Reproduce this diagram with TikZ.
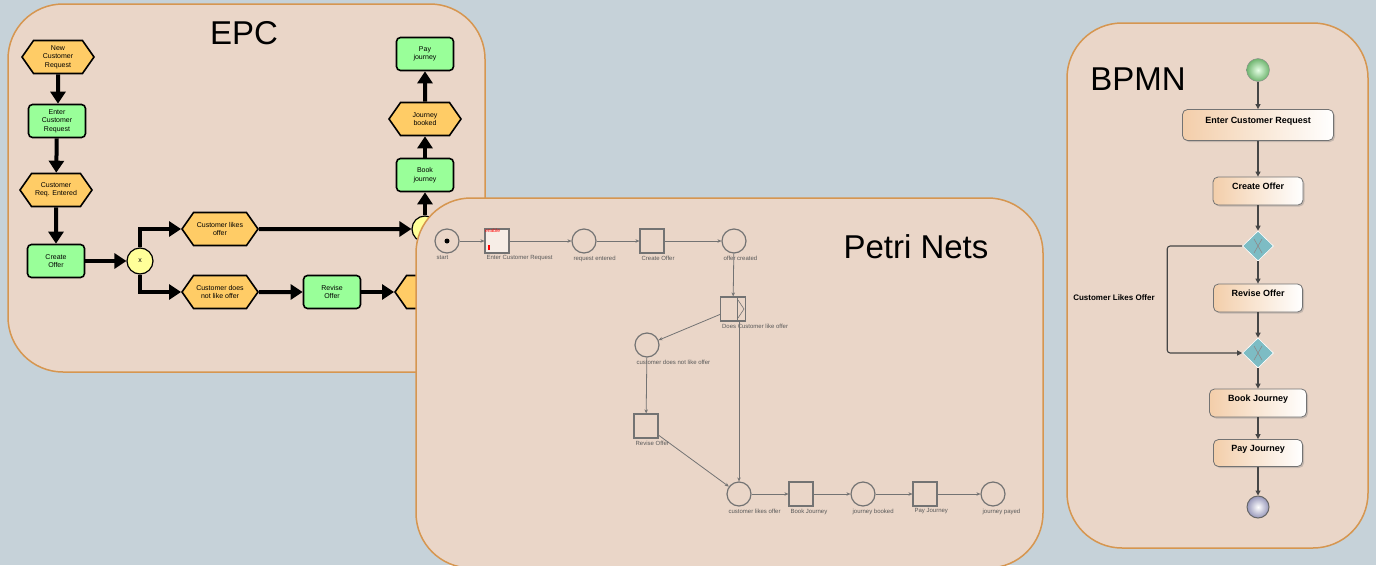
\documentclass[tikz,border=0pt]{standalone}
\usepackage{fontspec}
\setmainfont{Liberation Sans}
\usetikzlibrary{arrows.meta,shapes.symbols,shapes.geometric,shadows}

\definecolor{slide}{RGB}{198,210,217}
\definecolor{panel}{RGB}{234,214,200}
\definecolor{panelline}{RGB}{214,150,80}
\definecolor{epcfunc}{RGB}{153,255,153}
\definecolor{epcevent}{RGB}{255,204,102}
\definecolor{epcconn}{RGB}{255,255,153}
\definecolor{pnline}{RGB}{115,115,115}
\definecolor{taskleft}{RGB}{243,206,170}
\definecolor{gateway}{RGB}{125,188,196}
\definecolor{flowline}{RGB}{70,70,70}

\tikzset{
  panelbox/.style={draw=panelline, line width=1.5pt, fill=panel, rounded corners=55pt},
  title/.style={font=\fontsize{33}{38}\selectfont},
  % EPC
  func/.style={draw, line width=1.6pt, fill=epcfunc, rounded corners=4pt,
    minimum width=57pt, minimum height=33pt, align=center, inner sep=1pt,
    font=\fontsize{7}{8.5}\selectfont},
  event/.style={signal, signal to=west and east, signal pointer angle=110,
    draw, line width=1.6pt, fill=epcevent, minimum width=72pt, minimum height=33pt,
    align=center, inner sep=1pt, font=\fontsize{7}{8.5}\selectfont},
  conn/.style={circle, draw, line width=1.2pt, fill=epcconn, minimum size=26pt,
    inner sep=0pt, font=\fontsize{7}{8}\selectfont},
  flow/.style={line width=4pt, -{Triangle[length=12pt,width=15pt]}},
  % Petri net
  place/.style={circle, draw=pnline, line width=1.2pt, minimum size=24pt, inner sep=0pt},
  trans/.style={rectangle, draw=pnline, line width=1.2pt, minimum size=24pt, inner sep=0pt},
  arc/.style={draw=pnline, line width=0.8pt, -{Stealth[length=4pt,width=3.5pt]}},
  pnlabel/.style={anchor=north west, inner sep=2pt, text=black!65,
    font=\fontsize{6}{7}\selectfont},
  % BPMN
  task/.style={draw=black!55, rounded corners=5pt, left color=taskleft, right color=white,
    line width=0.8pt, minimum height=28pt, text height=7pt, text depth=10pt,
    font=\fontsize{9}{10}\selectfont\bfseries,
    drop shadow={opacity=0.35, shadow xshift=1.5pt, shadow yshift=-1.5pt}},
  gate/.style={diamond, draw=white, line width=0.6pt, fill=gateway,
    minimum width=31pt, minimum height=30pt, inner sep=0pt},
  seq/.style={draw=flowline, line width=1.1pt, -{Triangle[length=5pt,width=5pt]}},
}

\begin{document}
\begin{tikzpicture}[x=1pt,y=-1pt]
  \useasboundingbox[fill=slide] (0,0) rectangle (1376,565);

  % EPC panel
  \draw[panelbox] (8,4) rectangle (485,372);
  \node[title] (epcTitle) at (244,33) {EPC};

  \node[event] (epcNew) at (58,57) {New\\Customer\\Request};
  \node[func] (epcEnter) at (57,121) {Enter\\Customer\\Request};
  \node[event] (epcEntered) at (56,190) {Customer\\Req. Entered};
  \node[func] (epcCreate) at (56,261) {Create\\Offer};
  \node[conn] (epcXor) at (140,261) {x};
  \node[event, minimum width=76pt] (epcLikes) at (220,229) {Customer likes\\offer};
  \node[event, minimum width=76pt] (epcNoLike) at (220,292) {Customer does\\not like offer};
  \node[func] (epcRevise) at (332,292) {Revise\\Offer};
  \node[event] (epcRevised) at (431,292) {};
  \node[conn] (epcJoin) at (425,229) {};
  \node[func] (epcBook) at (425,175) {Book\\journey};
  \node[event] (epcBooked) at (425,119) {Journey\\booked};
  \node[func] (epcPay) at (425,54) {Pay\\journey};

  \draw[flow] (epcNew) -- (epcNew |- epcEnter.north);
  \draw[flow] (epcEnter) -- (epcEntered);
  \draw[flow] (epcEntered) -- (epcCreate);
  \draw[flow] (epcCreate) -- (epcXor);
  \draw[flow] (epcXor) |- (epcLikes);
  \draw[flow] (epcXor) |- (epcNoLike);
  \draw[flow] (epcLikes) -- (epcJoin);
  \draw[flow] (epcNoLike) -- (epcRevise);
  \draw[flow] (epcRevise) -- (epcRevised);
  \draw[flow] (epcJoin) -- (epcBook);
  \draw[flow] (epcBook) -- (epcBooked);
  \draw[flow] (epcBooked) -- (epcPay);

  % Petri net panel
  \draw[panelbox] (416,198) rectangle (1043,568);
  \node[title] (pnTitle) at (916,247) {Petri Nets};

  \node[place] (pnStart) at (447,241) {};
  \fill[black] (pnStart.center) circle (2.5);
  \node[trans, fill=white!55!panel] (pnEnter) at (497,241) {};
  \node[anchor=north west, inner sep=0.5pt, text=red, font=\fontsize{5}{5}\selectfont]
    (pnEnable) at (pnEnter.north west) {enable};
  \fill[red] (488,245) rectangle (490,250);
  \node[place] (pnReq) at (584,241) {};
  \node[trans] (pnCreate) at (652,241) {};
  \node[place] (pnOffer) at (734,241) {};
  \node[trans, minimum width=25pt] (pnDoes) at (733,309) {};
  % split part of the transition
  \draw[pnline, line width=0.8pt] (737,297) -- (737,321);
  \draw[pnline, line width=0.6pt] (738,300) -- (744,309) -- (738,318);
  \node[place] (pnNoLike) at (647,345) {};
  \node[trans] (pnRevise) at (646,426) {};
  \node[place] (pnLikes) at (739,494) {};
  \node[trans] (pnBook) at (801,494) {};
  \node[place] (pnBooked) at (863,494) {};
  \node[trans] (pnPay) at (925,494) {};
  \node[place] (pnPayed) at (993,494) {};

  \node[pnlabel] at (pnStart.south -| pnStart.west) {start};
  \node[pnlabel] at (pnEnter.south west) {Enter Customer Request};
  \node[pnlabel] at (pnReq.south -| pnReq.west) {request entered};
  \node[pnlabel] at (pnCreate.south west) {Create Offer};
  \node[pnlabel] at (pnOffer.south -| pnOffer.west) {offer created};
  \node[pnlabel] at (pnDoes.south west) {Does Customer like offer};
  \node[pnlabel] at (pnNoLike.south -| pnNoLike.west) {customer does not like offer};
  \node[pnlabel] at (pnRevise.south west) {Revise Offer};
  \node[pnlabel] at (pnLikes.south -| pnLikes.west) {customer likes offer};
  \node[pnlabel] at (pnBook.south west) {Book Journey};
  \node[pnlabel] at (pnBooked.south -| pnBooked.west) {journey booked};
  \node[pnlabel] at (pnPay.south west) {Pay Journey};
  \node[pnlabel] at (pnPayed.south -| pnPayed.west) {journey payed};

  \draw[arc] (pnStart) -- (pnEnter);
  \draw[arc] (pnEnter) -- (pnReq);
  \draw[arc] (pnReq) -- (pnCreate);
  \draw[arc] (pnCreate) -- (pnOffer);
  \draw[arc] (pnOffer) -- (pnDoes);
  \draw[arc] (pnDoes) -- (pnNoLike);
  \draw[arc] ([xshift=6pt]pnDoes.south) -- (pnLikes);
  \draw[arc] (pnNoLike) -- (pnRevise);
  \draw[arc] (pnRevise) -- (pnLikes);
  \draw[arc] (pnLikes) -- (pnBook);
  \draw[arc] (pnBook) -- (pnBooked);
  \draw[arc] (pnBooked) -- (pnPay);
  \draw[arc] (pnPay) -- (pnPayed);

  % BPMN panel
  \draw[panelbox] (1067,23) rectangle (1368,548);
  \node[title] (bpTitle) at (1138,79) {BPMN};

  \node[circle, draw=black!45, minimum size=23pt, shading=radial,
    inner color=green!10!white, outer color={rgb,255:red,110;green,180;blue,110}] (bpStart) at (1258,70) {};
  \node[task, minimum width=151pt, minimum height=31pt] (bpEnter) at (1258,125) {Enter Customer Request};
  \node[task, minimum width=90pt] (bpCreate) at (1258,191) {Create Offer};
  \node[gate] (bpSplit) at (1258,246) {};
  \node[task, minimum width=89pt] (bpRevise) at (1258,298) {Revise Offer};
  \node[gate] (bpJoin) at (1258,353) {};
  \node[task, minimum width=97pt] (bpBook) at (1258,403) {Book Journey};
  \node[task, minimum width=89pt, minimum height=27pt] (bpPay) at (1258,453) {Pay Journey};
  \node[circle, draw=black!60, line width=1pt, minimum size=22pt, shading=radial,
    inner color=white, outer color={rgb,255:red,150;green,150;blue,185}] (bpEnd) at (1258,507) {};

  % X marks in the gateways
  \foreach \g in {bpSplit,bpJoin} {
    \draw[black!45, line width=0.6pt] ([shift={(-4pt,7pt)}]\g.center) -- ([shift={(4pt,-7pt)}]\g.center);
    \draw[black!45, line width=0.6pt] ([shift={(4pt,7pt)}]\g.center) -- ([shift={(-4pt,-7pt)}]\g.center);
  }

  \draw[seq] (bpStart) -- (bpEnter);
  \draw[seq] (bpEnter) -- (bpCreate);
  \draw[seq] (bpCreate) -- (bpSplit);
  \draw[seq] (bpSplit) -- (bpRevise);
  \draw[seq] (bpRevise) -- (bpJoin);
  \draw[seq] (bpJoin) -- (bpBook);
  \draw[seq] (bpBook) -- (bpPay);
  \draw[seq] (bpPay) -- (bpEnd);
  \draw[seq, rounded corners=3pt] (bpSplit.west) -- ++(-75,0) |- (bpJoin.west);
  \node[font=\fontsize{8}{9}\selectfont\bfseries] (bpLikes) at (1114,298) {Customer Likes Offer};
\end{tikzpicture}
\end{document}
